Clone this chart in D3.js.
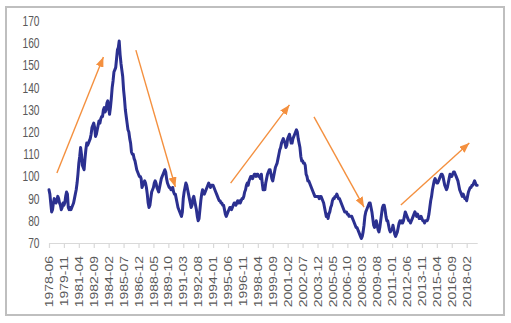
<!DOCTYPE html>
<html>
<head>
<meta charset="utf-8">
<script src="https://cdn.jsdelivr.net/npm/d3@7"></script>
<style>
  html, body { margin: 0; padding: 0; background: #fff; }
  svg { display: block; }
  text { font-family: "Liberation Sans", Arial, sans-serif; }
</style>
</head>
<body>
<svg id="chart" width="511" height="323"></svg>
<script>
// Monthly index, June 1978 through February 2019
const firstMonth = new Date(1978, 5, 1);
const lastMonth = new Date(2019, 1, 1);

const indexValues = [
  // 1978 (Jun-Dec)
  94, 92, 88, 84, 85, 88, 90,
  // 1979
  89, 88, 89, 91, 90, 88, 87, 85, 86, 88, 87, 88,
  // 1980
  91, 93, 92, 86, 85, 86, 85, 86, 87, 88, 90, 92,
  // 1981
  94, 97, 101, 106, 109, 113, 110, 105, 104, 103, 108, 112,
  // 1982
  115, 114, 115, 116, 117, 119, 122, 123, 124, 122, 118, 119,
  // 1983
  121, 123, 125, 124, 126, 127, 127, 130, 131, 129, 130, 133,
  // 1984
  134, 131, 128, 131, 135, 140, 143, 147, 148, 149, 153, 157,
  // 1985
  158, 161, 155, 151, 148, 145, 139, 135, 130, 127, 124, 121,
  // 1986
  120, 117, 115, 111, 110, 110, 108, 107, 105, 103, 102, 101,
  // 1987
  100, 100, 99, 95, 96, 97, 98, 97, 95, 92, 88, 86,
  // 1988
  87, 90, 93, 94, 95, 97, 98, 97, 95, 94, 93, 95,
  // 1989
  97, 99, 100, 101, 102, 103, 102, 99, 97, 96, 95, 95,
  // 1990
  94, 94, 95, 93, 92, 92, 90, 88, 86, 85, 84, 83,
  // 1991
  82, 84, 90, 93, 95, 97, 96, 94, 92, 90, 88, 86,
  // 1992
  87, 90, 91, 89, 87, 85, 82, 80, 81, 85, 89, 92,
  // 1993
  94, 93, 92, 93, 94, 95, 96, 97, 96, 95, 96, 96,
  // 1994
  96, 95, 94, 93, 92, 91, 90, 89, 89, 88, 88, 87,
  // 1995
  87, 85, 83, 82, 83, 84, 85, 86, 86, 85, 86, 87,
  // 1996
  88, 88, 87, 88, 89, 88, 89, 88, 89, 90, 90, 91,
  // 1997
  93, 94, 96, 97, 96, 98, 99, 100, 100, 99, 100, 101,
  // 1998
  101, 100, 101, 101, 100, 100, 99, 101, 97, 94, 95, 94,
  // 1999
  97, 99, 101, 102, 103, 103, 101, 99, 98, 100, 102, 104,
  // 2000
  105, 106, 108, 110, 112, 113, 115, 116, 117, 116, 115, 113,
  // 2001
  114, 117, 118, 119, 117, 115, 115, 117, 118, 119, 120, 121,
  // 2002
  120, 117, 115, 113, 109, 107, 107, 106, 106, 105, 101, 100,
  // 2003
  98, 98, 97, 96, 95, 94, 93, 92, 91, 91, 91, 91,
  // 2004
  91, 90, 91, 91, 90, 89, 88, 86, 84, 82, 83, 81,
  // 2005
  83, 84, 86, 87, 89, 90, 90, 91, 91, 92, 91, 90,
  // 2006
  90, 89, 88, 87, 86, 85, 84, 84, 84, 83, 83, 82,
  // 2007
  82, 82, 82, 81, 80, 79, 78, 77, 77, 76, 75, 74,
  // 2008
  73, 72, 73, 75, 78, 82, 84, 85, 86, 87, 88, 88,
  // 2009
  86, 84, 81, 78, 77, 78, 80, 78, 76, 75, 77, 80,
  // 2010
  83, 86, 87, 87, 85, 82, 80, 80, 78, 76, 75, 76,
  // 2011
  76, 78, 76, 74, 73, 74, 75, 77, 79, 80, 79, 80,
  // 2012
  79, 80, 82, 84, 83, 82, 81, 80, 80, 79, 80, 81,
  // 2013
  82, 83, 84, 83, 82, 83, 82, 81, 81, 82, 81, 80,
  // 2014
  80, 79, 80, 80, 80, 81, 83, 86, 89, 91, 94, 96,
  // 2015
  98, 99, 98, 97, 97, 98, 99, 100, 101, 101, 100, 98,
  // 2016
  96, 95, 94, 95, 97, 99, 101, 100, 100, 101, 102, 102,
  // 2017
  101, 100, 99, 98, 96, 94, 93, 92, 91, 92, 91, 90,
  // 2018
  90, 89, 91, 93, 94, 95, 95, 96, 96, 97, 98, 97,
  // 2019 (Jan-Feb)
  96, 96
];

const xTickLabels = [
  "1978-06", "1979-11", "1981-04", "1982-09", "1984-02", "1985-07",
  "1986-12", "1988-05", "1989-10", "1991-03", "1992-08", "1994-01",
  "1995-06", "1996-11", "1998-04", "1999-09", "2001-02", "2002-07",
  "2003-12", "2005-05", "2006-10", "2008-03", "2009-08", "2011-01",
  "2012-06", "2013-11", "2015-04", "2016-09", "2018-02"
];

const yTicks = [70, 80, 90, 100, 110, 120, 130, 140, 150, 160, 170];

// Trend arrows: [start month, start level, end month, end level]
const trendArrows = [
  ["1979-03", 101.5, "1983-08", 153.8],
  ["1986-09", 156.9, "1990-06", 95.2],
  ["1995-09", 97.0, "2001-04", 132.2],
  ["2003-08", 126.8, "2008-05", 86.2],
  ["2011-11", 87.1, "2018-05", 115.0]
];

const fmt = d3.timeFormat("%Y-%m");
const months = d3.timeMonth.range(firstMonth, d3.timeMonth.offset(lastMonth, 1)).map(fmt);
const series = months.map((m, i) => ({ month: m, value: indexValues[i] }));

const svg = d3.select("#chart");
const W = 511, H = 323;

svg.append("rect").attr("width", W).attr("height", H).attr("fill", "#fff");
svg.append("rect")
  .attr("x", 6).attr("y", 7).attr("width", 498).attr("height", 308)
  .attr("fill", "none").attr("stroke", "#bfbfbf").attr("stroke-width", 2);

const x = d3.scalePoint().domain(months).range([49, 477.2]);
const y = d3.scaleLinear().domain([70, 170]).range([243, 21]);

const textSqueeze = 0.73;
const labelColor = "#595959";

// Y axis: labels only
const yAxis = svg.append("g")
  .attr("transform", "translate(39.5,0)")
  .call(d3.axisLeft(y).tickValues(yTicks).tickSize(0).tickPadding(0));
yAxis.select(".domain").remove();
yAxis.selectAll("text")
  .attr("x", 0)
  .attr("transform", `scale(${textSqueeze},1)`)
  .attr("fill", labelColor)
  .style("font-size", "14px");

// X axis with rotated month labels
const xAxis = svg.append("g")
  .attr("transform", `translate(0,${y(70)})`)
  .call(d3.axisBottom(x).tickValues(xTickLabels).tickSize(5).tickSizeOuter(0));
xAxis.select(".domain").attr("stroke", "#d9d9d9").attr("stroke-width", 1.2);
xAxis.selectAll(".tick line").attr("stroke", "#d9d9d9").attr("stroke-width", 1.2);
xAxis.selectAll("text")
  .attr("x", 0).attr("y", 0).attr("dy", "0.35em")
  .attr("text-anchor", "end")
  .attr("transform", `translate(0,13) scale(${textSqueeze},1) rotate(-90)`)
  .attr("fill", labelColor)
  .style("font-size", "14px");

// Index line
svg.append("path")
  .datum(series)
  .attr("fill", "none")
  .attr("stroke", "#2B3090")
  .attr("stroke-width", 3)
  .attr("stroke-linejoin", "round")
  .attr("stroke-linecap", "round")
  .attr("d", d3.line().x(d => x(d.month)).y(d => y(d.value)));

// Trend arrows
const arrowColor = "#F4903F";
svg.append("defs").append("marker")
  .attr("id", "arrowhead")
  .attr("markerUnits", "userSpaceOnUse")
  .attr("viewBox", "0 0 10 8")
  .attr("markerWidth", 10).attr("markerHeight", 8)
  .attr("refX", 10).attr("refY", 4)
  .attr("orient", "auto")
  .append("path")
  .attr("d", "M0,0L10,4L0,8Z")
  .attr("fill", arrowColor);

svg.append("g").selectAll("line")
  .data(trendArrows)
  .join("line")
  .attr("x1", d => x(d[0])).attr("y1", d => y(d[1]))
  .attr("x2", d => x(d[2])).attr("y2", d => y(d[3]))
  .attr("stroke", arrowColor)
  .attr("stroke-width", 1.4)
  .attr("marker-end", "url(#arrowhead)");
</script>
</body>
</html>
